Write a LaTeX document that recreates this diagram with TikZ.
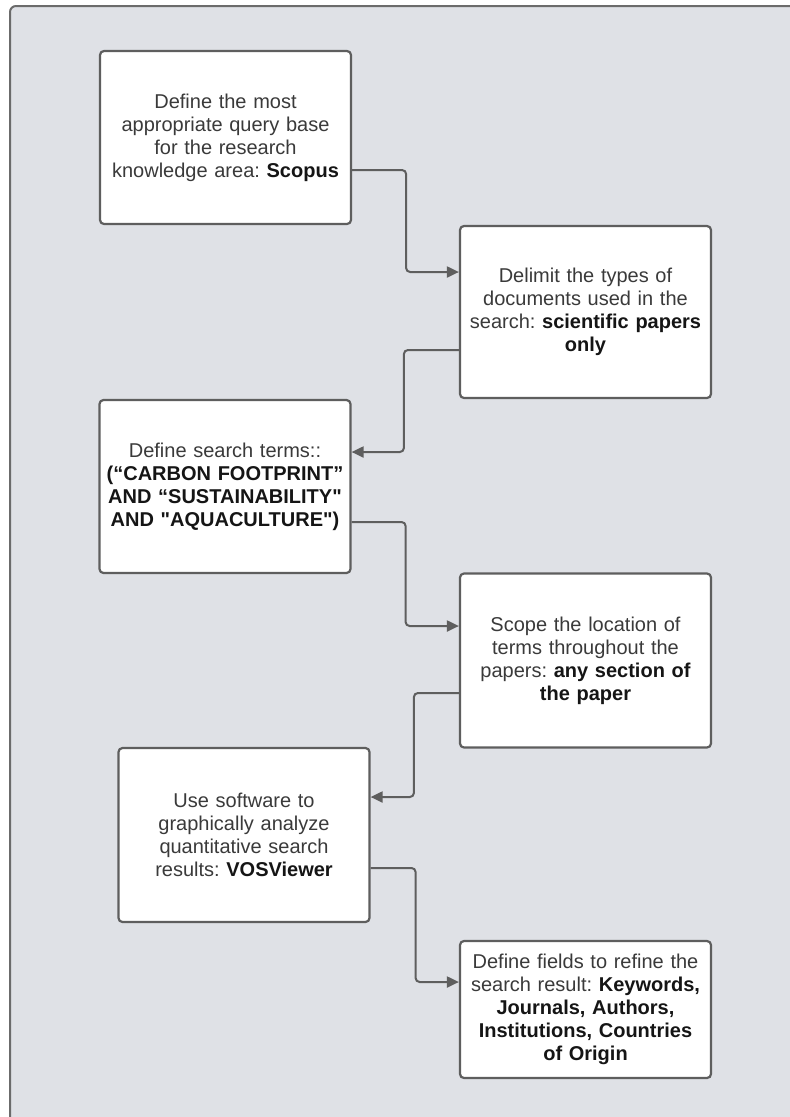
\documentclass[tikz,border=0pt]{standalone}
\usepackage{fontspec}
\setmainfont{Liberation Sans}[Ligatures=TeXOff]
\usetikzlibrary{arrows.meta}
\definecolor{framefill}{HTML}{DFE1E6}
\definecolor{framedraw}{HTML}{6B6B6B}
\definecolor{boxdraw}{HTML}{5E5E5E}
\definecolor{txt}{HTML}{3A3A3A}
\definecolor{btxt}{HTML}{151515}
\newcommand{\bt}[1]{\textbf{\color{btxt}#1}}
\tikzset{
  stepbox/.style={draw=boxdraw, fill=white, line width=2.2pt, rounded corners=4pt,
    minimum width=251pt, text width=240pt, align=center, inner sep=0pt,
    font=\fontsize{20}{23}\selectfont\frenchspacing, text=txt},
  conn/.style={draw=boxdraw, line width=2pt, rounded corners=4pt,
    -{Triangle[length=12pt,width=11pt]}},
}
\begin{document}
\begin{tikzpicture}[x=1pt,y=-1pt]
\useasboundingbox (0,0) rectangle (790,1117);
\clip (0,0) rectangle (790,1117);
\draw[fill=framefill, draw=framedraw, line width=2pt, rounded corners=6pt] (10,6) rectangle (820,1140);

\node[stepbox, minimum height=173pt] (b1) at (225.5,137.5)
  {Define the most\\appropriate query base\\for the research\\knowledge area: \bt{Scopus}};
\node[stepbox, minimum height=172pt] (b2) at (585.5,312)
  {Delimit the types of\\documents used in the\\search: \bt{scientific papers}\\\bt{only}};
\node[stepbox, minimum height=173pt] (b3) at (225,486.5)
  {Define search terms::\\\bt{(“CARBON FOOTPRINT”}\\\bt{AND “SUSTAINABILITY"}\\\bt{AND "AQUACULTURE")}};
\node[stepbox, minimum height=174pt] (b4) at (585.5,660.5)
  {Scope the location of\\terms throughout the\\papers: \bt{any section of}\\\bt{the paper}};
\node[stepbox, minimum height=174pt] (b5) at (244,835)
  {Use software to\\graphically analyze\\quantitative search\\results: \bt{VOSViewer}};
\node[stepbox, minimum height=137pt] (b6) at (585.5,1009.5)
  {Define fields to refine the\\search result: \bt{Keywords,}\\\bt{Journals, Authors,}\\\bt{Institutions, Countries}\\\bt{of Origin}};

\draw[conn] ([yshift=-32.5pt]b1.east) -- ++(54,0) |- ([yshift=40pt]b2.west);
\draw[conn] ([yshift=-38pt]b2.west) -- ++(-55,0) |- ([yshift=34.5pt]b3.east);
\draw[conn] ([yshift=-35.5pt]b3.east) -- ++(54,0) |- ([yshift=34.5pt]b4.west);
\draw[conn] ([yshift=-32.5pt]b4.west) -- ++(-45,0) |- ([yshift=38pt]b5.east);
\draw[conn] ([yshift=-33pt]b5.east) -- ++(45,0) |- ([yshift=27.5pt]b6.west);
\end{tikzpicture}
\end{document}
